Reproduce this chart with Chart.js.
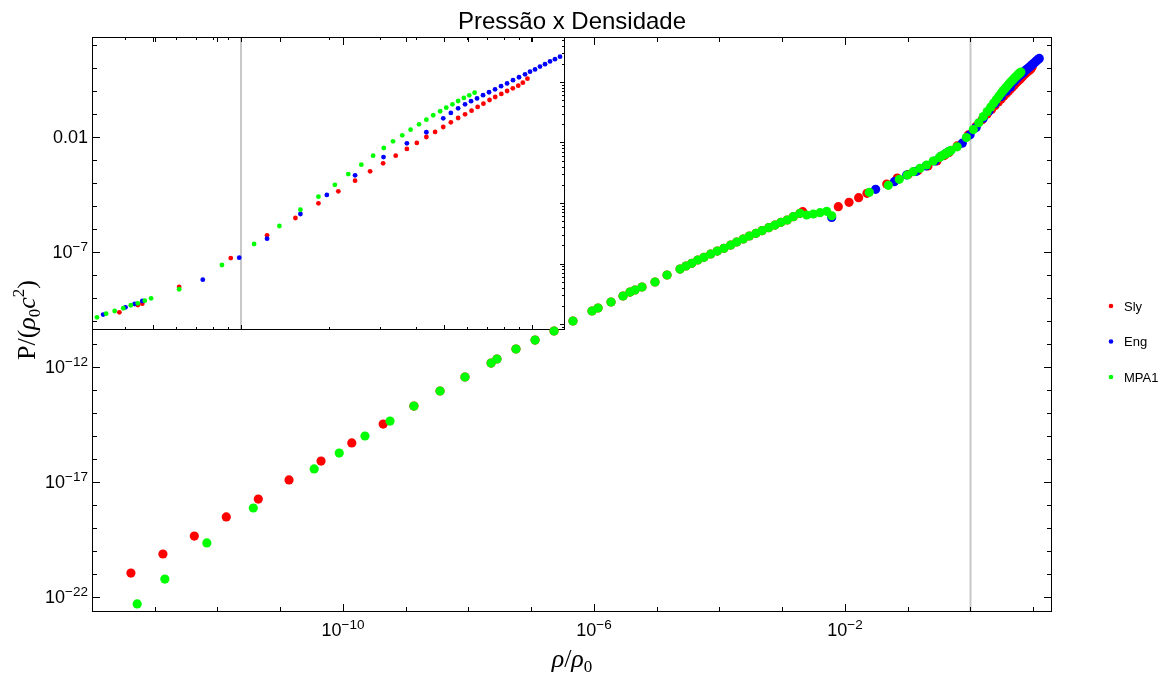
<!DOCTYPE html>
<html>
<head>
<meta charset="utf-8">
<script src="https://cdn.jsdelivr.net/npm/chart.js@4.4.0/dist/chart.umd.min.js"></script>
<style>
  html, body { margin: 0; padding: 0; background: #fff; }
  #wrap { position: relative; width: 1166px; height: 674px; }
  #inset { position: absolute; left: 92px; top: 37px; }
  #main { position: absolute; left: 0; top: 0; }
</style>
</head>
<body>
<div id="wrap">
  <canvas id="inset" width="473" height="293"></canvas>
  <canvas id="main" width="1166" height="674"></canvas>
</div>
<script>
// density rho/rho0 and pressure P/(rho0 c^2)

// low density part, only Sly and MPA1
const slyLowRho = [4.17e-14, 1.35e-13, 4.27e-13, 1.38e-12, 4.47e-12, 1.38e-11, 4.47e-11, 1.38e-10, 4.37e-10];
const slyLowP = [1.10e-21, 7.41e-21, 4.47e-20, 3.02e-19, 1.82e-18, 1.23e-17, 8.13e-17, 5.01e-16, 3.31e-15];

const mpa1LowRho = [5.25e-14, 1.45e-13, 6.76e-13, 3.72e-12, 3.47e-11, 8.71e-11, 2.24e-10, 5.62e-10];
const mpa1LowP = [5.01e-23, 6.03e-22, 2.24e-20, 7.41e-19, 3.72e-17, 1.82e-16, 1.00e-15, 4.47e-15];

// crust points shared by Sly and MPA1
const crustRho = [1.35e-9, 3.52e-9, 8.79e-9, 2.29e-8, 2.84e-8, 5.71e-8, 1.15e-7, 2.31e-7, 4.62e-7, 9.29e-7,
  1.16e-6, 1.87e-6, 2.90e-6, 3.75e-6, 4.50e-6, 5.82e-6, 9.38e-6, 1.46e-5, 2.35e-5, 2.92e-5,
  3.61e-5, 4.50e-5, 5.66e-5, 7.24e-5, 9.23e-5, 1.18e-4, 1.51e-4, 1.88e-4, 2.39e-4, 2.99e-4,
  3.82e-4, 4.75e-4, 6.08e-4, 7.66e-4, 9.55e-4, 1.20e-3, 1.50e-3, 1.92e-3];
const crustP = [2.01e-14, 9.06e-14, 3.67e-13, 1.49e-12, 2.23e-12, 6.07e-12, 1.49e-11, 3.67e-11, 1.00e-10, 2.72e-10,
  3.67e-10, 6.70e-10, 1.22e-9, 1.82e-9, 2.23e-9, 3.01e-9, 4.97e-9, 1.00e-8, 1.82e-8, 2.46e-8,
  3.23e-8, 4.49e-8, 5.89e-8, 8.18e-8, 1.10e-7, 1.45e-7, 2.01e-7, 2.72e-7, 3.67e-7, 4.97e-7,
  6.50e-7, 8.43e-7, 1.14e-6, 1.49e-6, 1.95e-6, 2.46e-6, 3.43e-6, 4.82e-6];

// core parts
const slyCoreRho = [2.12e-3, 7.82e-3, 1.16e-2, 1.65e-2, 2.24e-2, 4.62e-2, 6.81e-2, 1.01e-1, 1.46e-1, 2.10e-1,
  2.92e-1, 0.382, 0.442, 0.458, 0.613, 0.922, 1.229, 1.538, 1.845, 2.160,
  2.466, 2.777, 3.078, 3.401, 3.715, 4.019, 4.334, 4.645, 4.953, 5.260,
  5.572, 5.886, 6.197, 6.503, 6.808, 7.145, 7.473, 7.843, 8.211, 8.590,
  8.966, 9.298, 9.643];
const slyCoreP = [5.65e-6, 9.33e-6, 1.45e-5, 2.30e-5, 3.56e-5, 9.06e-5, 1.65e-4, 2.34e-4, 3.49e-4, 5.48e-4,
  9.06e-4, 1.56e-3, 2.06e-3, 2.17e-3, 4.09e-3, 1.23e-2, 2.92e-2, 5.65e-2, 9.89e-2, 0.156,
  0.234, 0.334, 0.453, 0.605, 0.782, 0.982, 1.233, 1.493, 1.803, 2.158,
  2.541, 2.924, 3.357, 3.864, 4.375, 5.035, 5.649, 6.339, 7.096, 7.870,
  8.690, 9.727, 11.35];

const mpa1CoreRho = [2.45e-3, 3.13e-3, 4.00e-3, 5.11e-3, 6.14e-3, 2.44e-2, 4.90e-2, 7.33e-2, 9.84e-2, 0.122,
  0.157, 0.200, 0.255, 0.320, 0.344, 0.368, 0.394, 0.418, 0.442, 0.467,
  0.491, 0.613, 0.860, 1.109, 1.355, 1.600, 1.845, 2.102, 2.337, 2.591,
  2.844, 3.095, 3.329, 3.581, 3.826, 4.090, 4.334, 4.576, 4.833, 5.073,
  5.328, 5.572, 5.831, 6.085, 6.349];
const mpa1CoreP = [4.06e-6, 4.49e-6, 5.12e-6, 5.89e-6, 3.78e-6, 3.94e-5, 7.94e-5, 1.45e-4, 2.23e-4, 3.10e-4,
  4.36e-4, 6.07e-4, 9.06e-4, 1.29e-3, 1.48e-3, 1.64e-3, 1.82e-3, 2.04e-3, 2.20e-3, 2.43e-3,
  2.66e-3, 3.75e-3, 9.44e-3, 2.10e-2, 4.17e-2, 7.74e-2, 0.127, 0.200, 0.301, 0.430,
  0.605, 0.811, 1.047, 1.315, 1.629, 2.000, 2.382, 2.818, 3.281, 3.758,
  4.276, 4.853, 5.445, 6.026, 6.653];

const engRho = [6.14e-3, 3.08e-2, 6.11e-2, 9.62e-2, 0.135, 0.195, 0.272, 0.336, 0.401, 0.431,
  0.458, 0.739, 0.986, 1.229, 1.600, 1.972, 2.466, 3.088, 3.715, 4.334,
  4.953, 5.260, 5.572, 5.886, 6.172, 6.471, 6.787, 7.116, 7.463, 7.826,
  8.207, 8.603, 9.022, 9.461, 9.842, 10.24, 10.65, 11.08, 11.53, 11.99,
  12.48];
const engP = [3.16e-6, 5.32e-5, 1.14e-4, 2.23e-4, 3.16e-4, 5.48e-4, 9.06e-4, 1.43e-3, 1.89e-3, 2.14e-3,
  2.40e-3, 5.40e-3, 1.25e-2, 2.57e-2, 6.58e-2, 0.136, 0.287, 0.575, 0.970, 1.476,
  2.512, 3.076, 3.673, 4.276, 4.819, 5.358, 6.053, 6.761, 7.551, 8.531,
  9.484, 10.72, 11.97, 13.37, 14.79, 16.14, 17.99, 19.68, 21.83, 23.82,
  26.18];

// axis ranges and ticks
const mainX = [1e-14, 19.9];
const mainY = [2.23e-23, 223];
const mainXLabelExps = [-10, -6, -2];
const mainYLabelExps = [-22, -17, -12, -7, -2];
const insetX = [0.3076, 12.98];
const insetY = [7.96e-4, 55.4];
const insetXTicks = [0.4, 0.5, 0.6, 0.7, 0.8, 0.9, 1, 2, 3, 4, 5, 6, 7, 8, 9, 10];
const insetXMajor = [0.5, 1, 5, 10];
const markerRho = 1;

const SANS = '"Liberation Sans", Arial, sans-serif';
const SERIF = '"Liberation Serif", "Times New Roman", serif';

function pts(rho, p) {
  return rho.map((r, i) => ({ x: r, y: p[i] }));
}

const slyPts = pts(slyLowRho.concat(crustRho, slyCoreRho), slyLowP.concat(crustP, slyCoreP));
const mpa1Pts = pts(mpa1LowRho.concat(crustRho, mpa1CoreRho), mpa1LowP.concat(crustP, mpa1CoreP));
const engPts = pts(engRho, engP);

function makeDatasets(r) {
  return [
    { label: 'Sly', data: slyPts, backgroundColor: '#ff0000', pointRadius: r, pointBorderWidth: 0, order: 3 },
    { label: 'Eng', data: engPts, backgroundColor: '#0000ff', pointRadius: r, pointBorderWidth: 0, order: 2 },
    { label: 'MPA1', data: mpa1Pts, backgroundColor: '#00ff00', pointRadius: r, pointBorderWidth: 0, order: 1 }
  ];
}

// draw a run of text pieces with their own fonts
function drawParts(ctx, parts, x, y, align) {
  ctx.textAlign = 'left';
  ctx.textBaseline = 'alphabetic';
  let w = 0;
  parts.forEach(p => { ctx.font = p.font; p.w = ctx.measureText(p.t).width; w += p.w; });
  let cx = align === 'right' ? x - w : align === 'center' ? x - w / 2 : x;
  parts.forEach(p => { ctx.font = p.font; ctx.fillText(p.t, cx, y + (p.dy || 0)); cx += p.w; });
}

function powParts(e) {
  return [
    { t: '10', font: '18px ' + SANS },
    { t: (e < 0 ? '\u2212' : '') + Math.abs(e), font: '13.5px ' + SANS, dy: -7 }
  ];
}

function decades(scale) {
  const out = [];
  const k0 = Math.ceil(Math.log10(scale.min) - 1e-9);
  const k1 = Math.floor(Math.log10(scale.max) + 1e-9);
  for (let k = k0; k <= k1; k++) out.push(k);
  return out;
}

function greyLine(chart) {
  const { ctx, chartArea: a, scales: { x } } = chart;
  const px = x.getPixelForValue(markerRho);
  ctx.save();
  ctx.strokeStyle = '#c8c8c8';
  ctx.lineWidth = 2;
  ctx.beginPath();
  ctx.moveTo(px, a.top);
  ctx.lineTo(px, a.bottom);
  ctx.stroke();
  ctx.restore();
}

const mainDeco = {
  id: 'mainDeco',
  beforeDatasetsDraw(chart) { greyLine(chart); },
  afterDraw(chart) {
    const { ctx, chartArea: a, scales: { x, y } } = chart;
    ctx.save();
    ctx.strokeStyle = '#000';
    ctx.fillStyle = '#000';
    ctx.lineWidth = 1;
    ctx.strokeRect(a.left + 0.5, a.top + 0.5, a.right - a.left - 1, a.bottom - a.top - 1);

    ctx.beginPath();
    decades(x).forEach(k => {
      const px = Math.round(x.getPixelForValue(Number('1e' + k))) + 0.5;
      const len = mainXLabelExps.includes(k) ? 8 : 5;
      ctx.moveTo(px, a.bottom); ctx.lineTo(px, a.bottom - len);
      ctx.moveTo(px, a.top); ctx.lineTo(px, a.top + len);
    });
    decades(y).forEach(k => {
      const py = Math.round(y.getPixelForValue(Number('1e' + k))) + 0.5;
      const len = mainYLabelExps.includes(k) ? 8 : 5;
      ctx.moveTo(a.left, py); ctx.lineTo(a.left + len, py);
      ctx.moveTo(a.right, py); ctx.lineTo(a.right - len, py);
    });
    ctx.stroke();

    // tick labels
    mainXLabelExps.forEach(k => {
      const px = x.getPixelForValue(Number('1e' + k));
      drawParts(ctx, powParts(k), px, a.bottom + 24, 'center');
    });
    mainYLabelExps.forEach(k => {
      const py = y.getPixelForValue(Number('1e' + k));
      if (k === -2) drawParts(ctx, [{ t: '0.01', font: '18px ' + SANS }], a.left - 4, py + 6, 'right');
      else drawParts(ctx, powParts(k), a.left - 4, py + 6, 'right');
    });

    // title
    ctx.font = '24px ' + SANS;
    ctx.textAlign = 'center';
    ctx.fillText('Pressão x Densidade', (a.left + a.right) / 2, 29);

    // axis titles
    drawParts(ctx, [
      { t: 'ρ', font: 'italic 26px ' + SERIF },
      { t: '/', font: '26px ' + SERIF },
      { t: 'ρ', font: 'italic 26px ' + SERIF },
      { t: '0', font: '17px ' + SERIF, dy: 5 }
    ], (a.left + a.right) / 2, 667, 'center');

    ctx.save();
    ctx.translate(35, 320);
    ctx.rotate(-Math.PI / 2);
    drawParts(ctx, [
      { t: 'P/(', font: '26px ' + SERIF },
      { t: 'ρ', font: 'italic 26px ' + SERIF },
      { t: '0', font: '17px ' + SERIF, dy: 5 },
      { t: 'c', font: 'italic 26px ' + SERIF },
      { t: '2', font: '17px ' + SERIF, dy: -11 },
      { t: ')', font: '26px ' + SERIF }
    ], 0, 0, 'center');
    ctx.restore();

    // legend
    chart.data.datasets.forEach((ds, i) => {
      const ly = 306 + i * 35.5;
      ctx.fillStyle = ds.backgroundColor;
      ctx.beginPath();
      ctx.arc(1111, ly, 2.3, 0, Math.PI * 2);
      ctx.fill();
      ctx.fillStyle = '#000';
      drawParts(ctx, [{ t: ds.label, font: '13px ' + SANS }], 1124, ly + 4.5, 'left');
    });
    ctx.restore();
  }
};

const insetDeco = {
  id: 'insetDeco',
  beforeDraw(chart) {
    const { ctx, width, height } = chart;
    ctx.save();
    ctx.fillStyle = '#fff';
    ctx.fillRect(0, 0, width, height);
    ctx.restore();
  },
  beforeDatasetsDraw(chart) { greyLine(chart); },
  afterDraw(chart) {
    const { ctx, chartArea: a, scales: { x, y } } = chart;
    ctx.save();
    ctx.strokeStyle = '#000';
    ctx.lineWidth = 1;
    ctx.strokeRect(a.left + 0.5, a.top + 0.5, a.right - a.left - 1, a.bottom - a.top - 1);
    ctx.beginPath();
    insetXTicks.forEach(v => {
      const px = Math.round(x.getPixelForValue(v)) + 0.5;
      const len = insetXMajor.includes(v) ? 5 : 3;
      ctx.moveTo(px, a.bottom); ctx.lineTo(px, a.bottom - len);
      ctx.moveTo(px, a.top); ctx.lineTo(px, a.top + len);
    });
    decades(y).concat([Math.floor(Math.log10(y.min))]).forEach(k => {
      for (let m = 1; m <= 9; m++) {
        const v = m * Number('1e' + k);
        if (v < y.min || v > y.max) continue;
        const py = Math.round(y.getPixelForValue(v)) + 0.5;
        const len = m === 1 ? 5 : 3;
        ctx.moveTo(a.right, py); ctx.lineTo(a.right - len, py);
      }
    });
    ctx.stroke();
    ctx.restore();
  }
};

function logScales(xr, yr) {
  return {
    x: { type: 'logarithmic', min: xr[0], max: xr[1], bounds: 'data', display: false },
    y: { type: 'logarithmic', min: yr[0], max: yr[1], bounds: 'data', display: false }
  };
}

const commonPlugins = { legend: { display: false }, title: { display: false }, tooltip: { enabled: false } };

new Chart(document.getElementById('inset'), {
  type: 'scatter',
  data: { datasets: makeDatasets(2.4) },
  options: {
    responsive: false,
    animation: false,
    events: [],
    layout: { padding: 0, autoPadding: false },
    scales: logScales(insetX, insetY),
    plugins: commonPlugins
  },
  plugins: [insetDeco]
});

new Chart(document.getElementById('main'), {
  type: 'scatter',
  data: { datasets: makeDatasets(4.6) },
  options: {
    responsive: false,
    animation: false,
    events: [],
    layout: { padding: { left: 92, top: 37, right: 114, bottom: 62 }, autoPadding: false },
    scales: logScales(mainX, mainY),
    plugins: commonPlugins
  },
  plugins: [mainDeco]
});
</script>
</body>
</html>
